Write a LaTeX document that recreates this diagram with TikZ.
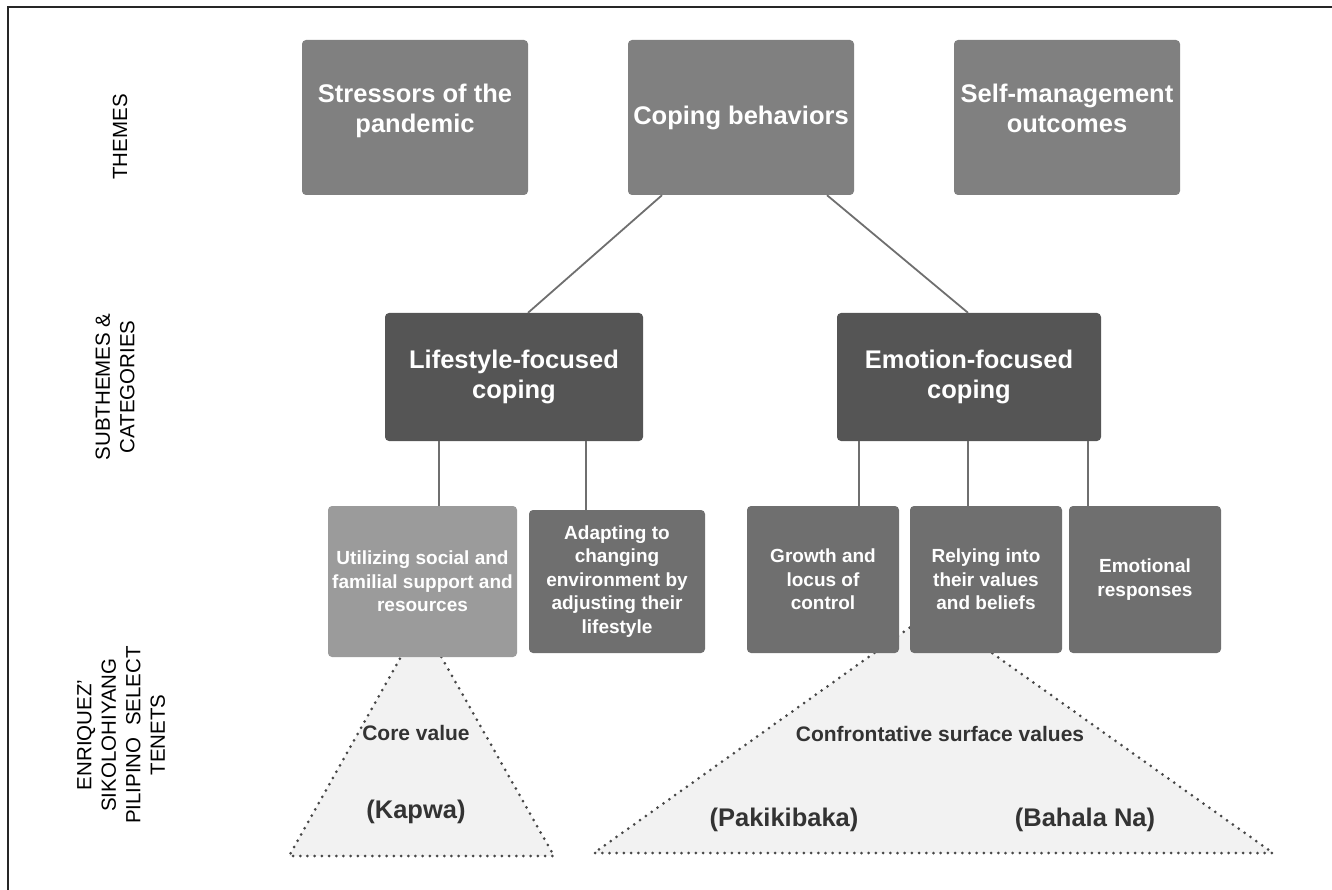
\documentclass[tikz,border=0pt]{standalone}
\usepackage{fontspec}
\setmainfont{Liberation Sans}
\definecolor{grisTheme}{HTML}{808080}
\definecolor{grisFonce}{HTML}{555555}
\definecolor{grisMoyen}{HTML}{6F6F6F}
\definecolor{grisClair}{HTML}{9B9B9B}
\definecolor{fondTri}{HTML}{F2F2F2}
\definecolor{encre}{HTML}{333333}
\begin{document}
\begin{tikzpicture}[x=1pt,y=-1pt]
	\tikzstyle{boite}=[rectangle,rounded corners=4,inner sep=0pt,align=center,text=white]
	\tikzstyle{theme}=[boite,fill=grisTheme,minimum width=226,minimum height=155,font=\bfseries\fontsize{25.5}{30.5}\selectfont]
	\tikzstyle{sous}=[boite,fill=grisFonce,minimum height=128,font=\bfseries\fontsize{25.5}{30}\selectfont]
	\tikzstyle{categorie}=[boite,fill=grisMoyen,minimum width=152,minimum height=147,font=\bfseries\fontsize{19}{23.5}\selectfont]
	\tikzstyle{niveau}=[rotate=90,align=center,text=black,font=\fontsize{20.5}{24.5}\selectfont]
	\tikzstyle{lien}=[draw=grisMoyen,line width=1.8]
	\tikzstyle{triangle}=[fill=fondTri,draw=encre!90,line width=3,line cap=round,dash pattern=on 0pt off 7.2pt]
	\tikzstyle{valeur}=[text=encre,font=\bfseries\fontsize{21}{25}\selectfont]
	\tikzstyle{tenet}=[text=encre,font=\bfseries\fontsize{25.5}{30}\selectfont]
	\useasboundingbox (0,0) rectangle (1332,890);
	% cadre
	\draw[line width=2,draw=black!85] (8,890) -- (8,7) -- (1332,7);
	% niveaux
	\node[niveau] (Themes) at (120,137) {THEMES};
	\node[niveau] (Sous) at (115,387) {SUBTHEMES \&\\CATEGORIES};
	\node[niveau] (Tenets) at (121,735) {ENRIQUEZ'\\SIKOLOHIYANG\\PILIPINO~ SELECT\\TENETS};
	% triangles (derriere les boites)
	\draw[triangle] (421,621) -- (289,856) -- (554,856) -- cycle;
	\draw[triangle] (933,611) -- (594,853) -- (1273,853) -- cycle;
	\node[valeur] (Core) at (416,733) {Core value};
	\node[tenet] (Kapwa) at (416,812) {(Kapwa)};
	\node[valeur] (Confront) at (940,734) {Confrontative surface values};
	\node[tenet] (Paki) at (784,820) {(Pakikibaka)};
	\node[tenet] (Bahala) at (1085,820) {(Bahala Na)};
	% themes
	\node[theme] (Stress) at (415,117.5) {Stressors of the\\pandemic\\[-12pt]};
	\node[theme] (Coping) at (741,117.5) {Coping behaviors\\[-27pt]};
	\node[theme] (Self) at (1067,117.5) {Self-management\\outcomes\\[-12pt]};
	% sous-themes
	\node[sous,minimum width=258] (Lifestyle) at (514,377) {Lifestyle-focused\\coping};
	\node[sous,minimum width=264] (Emotion) at (969,377) {Emotion-focused\\coping};
	% categories
	\node[categorie,fill=grisClair,minimum width=189,minimum height=151] (Util) at (422.5,581.5) {Utilizing social and\\familial support and\\resources};
	\node[categorie,minimum width=176,minimum height=143] (Adapt) at (617,581.5) {Adapting to\\changing\\environment by\\adjusting their\\lifestyle};
	\node[categorie] (Growth) at (823,579.5) {Growth and\\locus of\\control};
	\node[categorie] (Rely) at (986,579.5) {Relying into\\their values\\and beliefs};
	\node[categorie] (Emo) at (1145,579.5) {Emotional\\responses};
	% liens
	\draw[lien] (Coping.south -| 662,0) -- (Lifestyle.north -| 528,0);
	\draw[lien] (Coping.south -| 827,0) -- (Emotion.north -| 968,0);
	\draw[lien] (Lifestyle.south -| 439,0) -- (Util.north -| 439,0);
	\draw[lien] (Lifestyle.south -| 586,0) -- (Adapt.north -| 586,0);
	\draw[lien] (Emotion.south -| 859,0) -- (Growth.north -| 859,0);
	\draw[lien] (Emotion.south -| 968,0) -- (Rely.north -| 968,0);
	\draw[lien] (Emotion.south -| 1088,0) -- (Emo.north -| 1088,0);
\end{tikzpicture}
\end{document}
